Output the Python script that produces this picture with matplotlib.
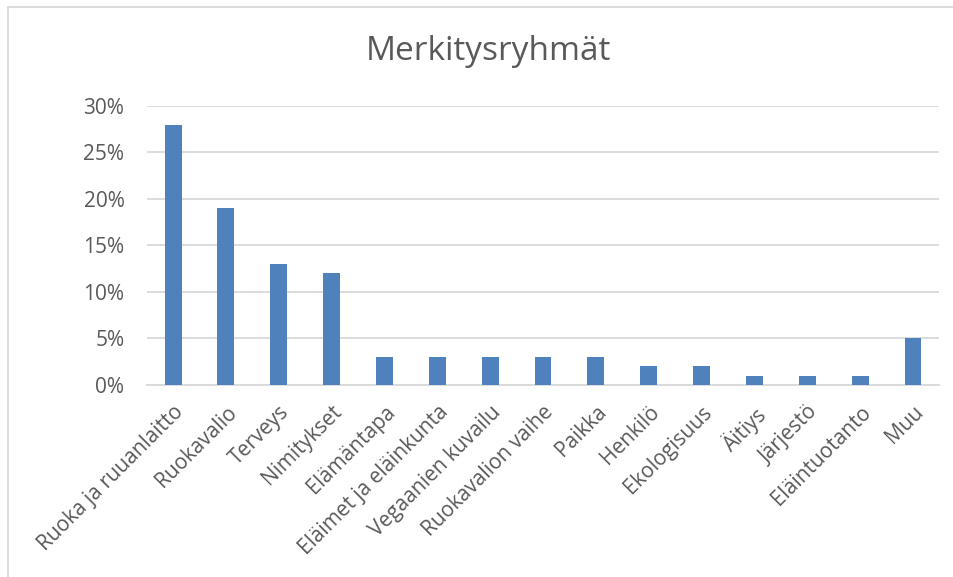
import numpy as np
import matplotlib.pyplot as plt
from matplotlib.lines import Line2D
from matplotlib.ticker import FuncFormatter

categories = ['Ruoka ja ruuanlaitto', 'Ruokavalio', 'Terveys', 'Nimitykset',
              'Elämäntapa', 'Eläimet ja eläinkunta', 'Vegaanien kuvailu',
              'Ruokavalion vaihe', 'Paikka', 'Henkilö', 'Ekologisuus',
              'Äitiys', 'Järjestö', 'Eläintuotanto', 'Muu']
shares = [0.28, 0.19, 0.13, 0.12, 0.03, 0.03, 0.03, 0.03, 0.03,
          0.02, 0.02, 0.01, 0.01, 0.01, 0.05]
yticks = [0, 0.05, 0.10, 0.15, 0.20, 0.25, 0.30]

text_col = '#595959'
plt.rcParams['font.family'] = ['Open Sans', 'DejaVu Sans']

fig = plt.figure(figsize=(9.54, 5.77), dpi=100)
ax = fig.add_axes([0.1537, 0.3328, 0.8310, 0.4835])

x = np.arange(len(categories))
ax.bar(x, shares, width=0.32, color='#4f81bd', zorder=3)

ax.set_xlim(-0.5, len(categories) - 0.5)
ax.set_ylim(0, 0.30)
ax.set_yticks(yticks)
ax.yaxis.set_major_formatter(FuncFormatter(lambda v, p: f'{v * 100:.0f}%'))
ax.grid(axis='y', color='#d9d9d9', linewidth=1.3, zorder=0)
ax.tick_params(axis='y', length=0, pad=16, labelsize=15, labelcolor=text_col)

ax.set_xticks(x)
ax.set_xticklabels(categories, rotation=45, ha='right', rotation_mode='anchor',
                   fontsize=15, color=text_col)
ax.tick_params(axis='x', length=0, pad=12)

for s in ['top', 'right', 'left']:
    ax.spines[s].set_visible(False)
ax.spines['bottom'].set_color('#d9d9d9')
ax.spines['bottom'].set_linewidth(1.3)

fig.text(0.512, 0.91, 'Merkitysryhmät', ha='center', va='center',
         fontsize=24, color=text_col)

# chart frame (only top and left edges are inside the picture)
fig.add_artist(Line2D([8 / 954, 1], [1 - 7 / 577] * 2, color='#d9d9d9', lw=1.3))
fig.add_artist(Line2D([8 / 954] * 2, [0, 1 - 7 / 577], color='#d9d9d9', lw=1.3))

fig.savefig('out.png', dpi=100)
